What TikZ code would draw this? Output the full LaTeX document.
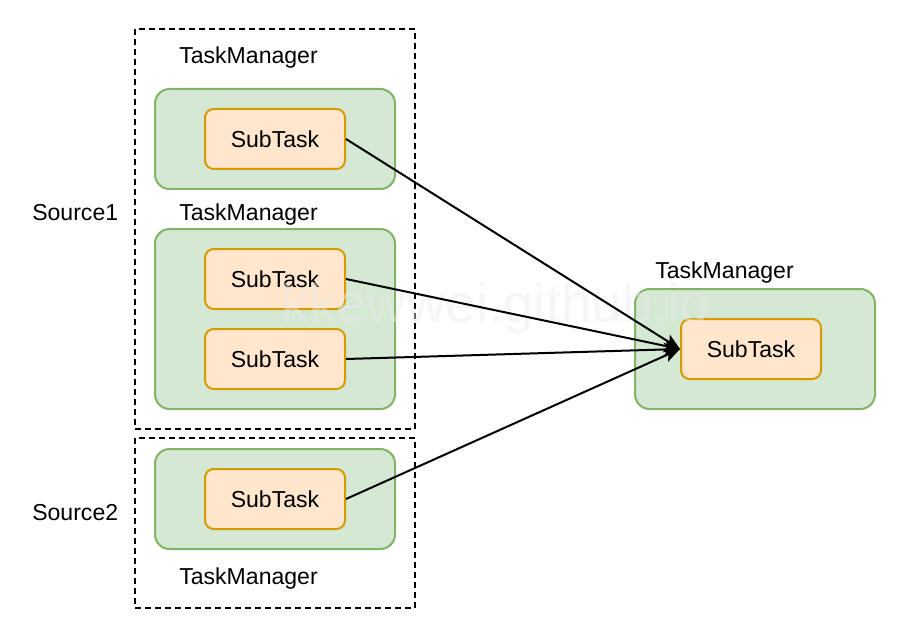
\documentclass[tikz,border=0pt]{standalone}
\usepackage{fontspec}
\setmainfont{Liberation Sans}
\usetikzlibrary{arrows.meta}
\definecolor{tmfill}{HTML}{D5E8D4}
\definecolor{tmline}{HTML}{82B366}
\definecolor{stfill}{HTML}{FFE6CC}
\definecolor{stline}{HTML}{D79B00}
\tikzset{
  txt/.style={font=\fontsize{17.3}{20}\selectfont},
  group/.style={draw=black, line width=1.5pt, dash pattern=on 4.5pt off 3pt, inner sep=0pt},
  tm/.style={draw=tmline, fill=tmfill, line width=1.5pt, rounded corners=11pt, inner sep=0pt, minimum width=180pt},
  sub/.style={txt, draw=stline, fill=stfill, line width=1.5pt, rounded corners=6.5pt, inner sep=0pt, minimum width=105pt, minimum height=45pt},
  link/.style={line width=1.5pt, -{Stealth[length=12pt, width=10pt, inset=2.5pt]}},
  caption/.style={txt, anchor=west, inner sep=0pt},
}
\begin{document}
\begin{tikzpicture}[x=0.75pt, y=-0.75pt]
\useasboundingbox (0,0) rectangle (917,631);

% dashed source groups
\node[group, minimum width=210pt, minimum height=300pt] (g1) at (275,229) {};
\node[group, minimum width=210pt, minimum height=127.5pt] (g2) at (275,523) {};

% task managers
\node[tm, minimum height=75pt] (tm1) at (275,139) {};
\node[tm, minimum height=135pt] (tm2) at (275,319) {};
\node[tm, minimum height=75pt] (tm3) at (275,499) {};
\node[tm, minimum height=90pt] (tm4) at (755,349) {};

% labels
\node[caption] (l1) at (179,58) {TaskManager};
\node[caption] (l2) at (179,215) {TaskManager};
\node[caption] (l3) at (179,579) {TaskManager};
\node[caption] (l4) at (655,273) {TaskManager};
\node[caption] (s1) at (32,213) {Source1};
\node[caption] (s2) at (32,513) {Source2};

% subtasks
\node[sub] (a) at (275,139) {SubTask};
\node[sub] (b) at (275,279) {SubTask};
\node[sub] (c) at (275,359) {SubTask};
\node[sub] (d) at (275,499) {SubTask};
\node[sub] (r) at (751,349) {SubTask};

% watermark
\node[font=\fontsize{41}{44}\selectfont, text=black!8, opacity=0.45, inner sep=0pt] (wm) at (496,308) {kkewwei.github.io};

% data flow
\draw[link] (a.east) -- (r.west);
\draw[link] (b.east) -- (r.west);
\draw[link] (c.east) -- (r.west);
\draw[link] (d.east) -- (r.west);
\end{tikzpicture}
\end{document}
